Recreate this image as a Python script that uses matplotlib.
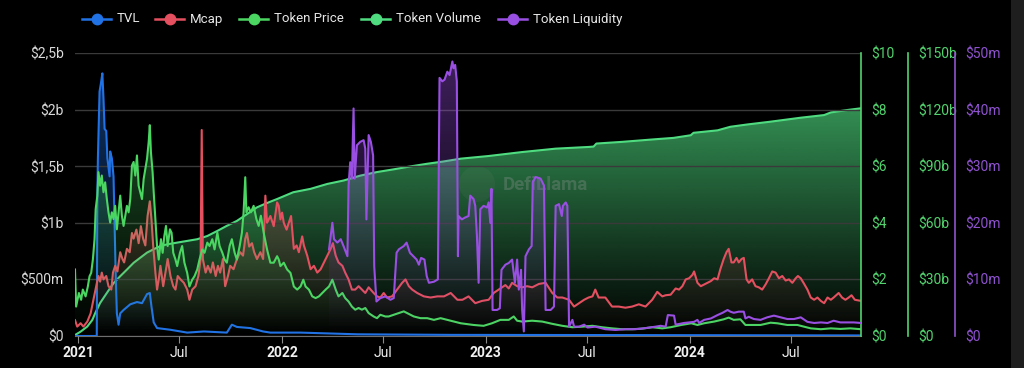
import matplotlib
matplotlib.use("Agg")
import matplotlib.pyplot as plt
import matplotlib.dates as mdates
import matplotlib.colors as mcolors
from matplotlib.lines import Line2D
from matplotlib.patches import Rectangle, Ellipse
import numpy as np
import pandas as pd

# all series: (days since 2021-01-01, value)
START = pd.Timestamp("2021-01-01")

tvl_points = [
    (-6, 0), (33, 0), (34, 1.24), (35, 1.57), (38, 2.16), (41, 2.25), (43, 2.32), (45, 2.1),
    (47, 1.83), (50, 1.81), (52, 1.57), (56, 1.41), (57, 1.63), (60, 1.57), (63, 1.41),
    (65, 0.97), (67, 0.52), (69, 0.2), (72, 0.1), (75, 0.2), (81, 0.23), (93, 0.28),
    (105, 0.3), (114, 0.29), (123, 0.37), (128, 0.38), (131, 0.26), (135, 0.12), (141, 0.07),
    (165, 0.055), (195, 0.03), (225, 0.04), (266, 0.03), (275, 0.1), (284, 0.08), (308, 0.07),
    (331, 0.04), (344, 0.03), (398, 0.03), (500, 0.015), (667, 0.01), (1000, 0.008), (1402, 0.005),
]

mcap_points = [
    (-6, 0.14), (-2, 0.083), (4, 0.113), (9, 0.083), (16, 0.127), (22, 0.2), (27, 0.32),
    (32, 0.44), (36, 0.53), (39, 0.48), (42, 0.56), (45, 0.5), (50, 0.53), (54, 0.44),
    (59, 0.41), (62, 0.56), (66, 0.62), (70, 0.57), (75, 0.74), (79, 0.68), (82, 0.65),
    (87, 0.77), (92, 0.74), (96, 0.91), (99, 0.86), (104, 0.94), (108, 0.82), (112, 0.97),
    (116, 0.86), (120, 0.8), (124, 1.06), (128, 1.19), (131, 1.03), (134, 0.8), (138, 0.56),
    (141, 0.41), (144, 0.5), (147, 0.62), (152, 0.44), (156, 0.56), (160, 0.68), (165, 0.53),
    (170, 0.44), (174, 0.41), (178, 0.53), (183, 0.5), (189, 0.47), (195, 0.41), (199, 0.32),
    (204, 0.41), (210, 0.44), (215, 0.53), (219, 0.68), (221, 1.82), (223, 0.68), (228, 0.56),
    (232, 0.62), (237, 0.56), (241, 0.65), (246, 0.53), (250, 0.62), (254, 0.56), (259, 0.68),
    (263, 0.44), (268, 0.53), (272, 0.62), (278, 0.59), (284, 0.68), (290, 0.74), (295, 0.71),
    (299, 0.86), (302, 0.91), (306, 0.79), (311, 0.82), (315, 0.74), (320, 0.68), (326, 0.74),
    (331, 0.68), (335, 1.24), (338, 1.0), (344, 1.06), (350, 0.97), (356, 1.18), (359, 1.15),
    (362, 1.03), (365, 1.09), (368, 1.0), (373, 0.94), (377, 1.0), (381, 1.06), (386, 0.77),
    (391, 0.8), (395, 0.74), (401, 0.88), (404, 0.8), (410, 0.71), (416, 0.59), (422, 0.62),
    (428, 0.56), (434, 0.59), (440, 0.65), (446, 0.71), (452, 0.77), (456, 0.82), (461, 0.71),
    (466, 0.65), (473, 0.62), (478, 0.56), (484, 0.5), (490, 0.41), (496, 0.41), (502, 0.44),
    (508, 0.41), (514, 0.38), (520, 0.43), (529, 0.38), (535, 0.35), (541, 0.34), (547, 0.38),
    (553, 0.34), (562, 0.35), (571, 0.41), (580, 0.47), (586, 0.5), (592, 0.44), (598, 0.41),
    (607, 0.38), (619, 0.35), (631, 0.34), (643, 0.35), (655, 0.35), (667, 0.38), (673, 0.35),
    (679, 0.32), (688, 0.32), (699, 0.35), (711, 0.29), (723, 0.31), (735, 0.32), (744, 0.38),
    (753, 0.41), (765, 0.45), (771, 0.42), (777, 0.47), (786, 0.44), (795, 0.43), (804, 0.44),
    (813, 0.43), (825, 0.46), (837, 0.47), (849, 0.38), (858, 0.34), (867, 0.34), (879, 0.32),
    (888, 0.26), (897, 0.29), (906, 0.32), (914, 0.34), (921, 0.35), (926, 0.41), (932, 0.34),
    (944, 0.34), (956, 0.26), (968, 0.26), (980, 0.25), (992, 0.26), (1004, 0.28), (1016, 0.26),
    (1028, 0.32), (1037, 0.39), (1046, 0.35), (1052, 0.36), (1061, 0.365), (1070, 0.42),
    (1076, 0.41), (1082, 0.44), (1088, 0.5), (1094, 0.51), (1100, 0.54), (1103, 0.57),
    (1109, 0.47), (1115, 0.44), (1121, 0.455), (1127, 0.47), (1133, 0.485), (1139, 0.51),
    (1145, 0.5), (1150, 0.59), (1156, 0.68), (1161, 0.74), (1165, 0.77), (1170, 0.65),
    (1174, 0.65), (1179, 0.69), (1183, 0.65), (1188, 0.68), (1192, 0.69), (1197, 0.5),
    (1201, 0.47), (1207, 0.5), (1213, 0.44), (1219, 0.43), (1225, 0.41), (1231, 0.455),
    (1237, 0.51), (1243, 0.57), (1249, 0.56), (1255, 0.51), (1261, 0.53), (1267, 0.49),
    (1273, 0.5), (1279, 0.47), (1285, 0.51), (1289, 0.53), (1294, 0.51), (1299, 0.47),
    (1306, 0.41), (1312, 0.34), (1318, 0.32), (1324, 0.34), (1330, 0.31), (1336, 0.29),
    (1342, 0.34), (1348, 0.32), (1353, 0.34), (1362, 0.38), (1368, 0.34), (1374, 0.32),
    (1380, 0.34), (1385, 0.36), (1391, 0.32), (1402, 0.31),
]

price_points = [
    (-6, 2.35), (-4, 1.04), (1, 1.52), (5, 1.28), (8, 1.64), (13, 1.4), (17, 1.75), (20, 2.11),
    (23, 2.23), (26, 2.7), (29, 3.42), (31, 4.48), (34, 4.96), (36, 5.79), (39, 5.31), (42, 5.67),
    (45, 5.08), (48, 5.43), (51, 4.84), (54, 4.37), (57, 4.01), (60, 4.37), (63, 4.13), (66, 4.6),
    (69, 3.77), (72, 4.37), (75, 4.96), (78, 4.25), (81, 3.89), (84, 4.25), (87, 4.6), (90, 4.37),
    (93, 4.84), (96, 6.02), (99, 6.15), (102, 5.67), (105, 6.38), (108, 5.31), (111, 5.08),
    (114, 4.84), (117, 5.55), (120, 5.91), (123, 6.26), (126, 6.86), (128, 7.45), (130, 6.5),
    (133, 5.79), (135, 5.08), (138, 4.13), (141, 3.18), (144, 2.7), (146, 3.06), (148, 3.42),
    (151, 2.94), (154, 3.53), (157, 3.89), (160, 3.18), (164, 3.77), (167, 3.65), (170, 2.94),
    (174, 2.7), (177, 2.47), (182, 2.94), (186, 3.18), (190, 2.59), (195, 2.23), (199, 1.75),
    (204, 1.99), (208, 2.11), (213, 2.35), (217, 2.7), (222, 3.06), (226, 2.94), (231, 3.3),
    (235, 3.18), (240, 3.42), (244, 3.06), (249, 3.65), (253, 3.18), (258, 2.94), (262, 2.7),
    (266, 2.59), (271, 3.18), (275, 3.42), (280, 2.94), (284, 2.7), (289, 3.18), (293, 3.65),
    (296, 4.37), (299, 5.61), (301, 4.37), (305, 4.55), (309, 4.37), (314, 4.6), (319, 4.13),
    (323, 3.89), (327, 4.25), (332, 3.65), (338, 3.06), (344, 2.59), (350, 2.59), (356, 2.82),
    (359, 2.7), (362, 2.47), (368, 2.59), (374, 2.35), (380, 2.23), (386, 1.75), (392, 1.64),
    (398, 1.75), (403, 1.99), (407, 1.75), (413, 1.64), (419, 1.4), (425, 1.34), (431, 1.4),
    (437, 1.52), (443, 1.64), (449, 1.75), (455, 1.99), (461, 1.64), (466, 1.4), (473, 1.52),
    (478, 1.34), (484, 1.22), (490, 1.04), (496, 0.93), (502, 0.99), (508, 0.93), (514, 0.99),
    (520, 0.81), (529, 0.69), (535, 0.63), (541, 0.75), (550, 0.69), (556, 0.69), (565, 0.75),
    (574, 0.81), (583, 0.87), (589, 0.81), (595, 0.75), (601, 0.69), (613, 0.63), (625, 0.63),
    (637, 0.57), (649, 0.63), (661, 0.57), (673, 0.51), (685, 0.45), (708, 0.39), (726, 0.36),
    (741, 0.45), (756, 0.57), (771, 0.57), (780, 0.69), (786, 0.54), (795, 0.51), (813, 0.54),
    (831, 0.51), (849, 0.43), (867, 0.36), (885, 0.31), (903, 0.33), (921, 0.36), (938, 0.31),
    (956, 0.27), (974, 0.24), (992, 0.24), (1010, 0.26), (1028, 0.31), (1046, 0.27), (1061, 0.31),
    (1080, 0.39), (1098, 0.45), (1109, 0.39), (1121, 0.45), (1139, 0.51), (1156, 0.59),
    (1165, 0.65), (1174, 0.57), (1186, 0.59), (1195, 0.39), (1204, 0.39), (1222, 0.39),
    (1240, 0.47), (1252, 0.45), (1270, 0.39), (1288, 0.39), (1300, 0.33), (1312, 0.27),
    (1330, 0.24), (1348, 0.27), (1365, 0.25), (1383, 0.27), (1402, 0.24),
]

volume_points = [
    (-6, 0.5), (4, 2.3), (16, 5), (25, 8.5), (30, 12), (39, 17.5), (51, 22.8), (63, 28),
    (75, 31.7), (87, 35.2), (99, 38.8), (111, 41.5), (123, 44.2), (135, 46), (147, 47.7),
    (159, 48.6), (177, 49.5), (195, 50.4), (213, 51.3), (231, 53), (249, 55.7), (266, 58.4),
    (284, 61), (302, 64.6), (320, 68.2), (338, 70.5), (356, 72.6), (385, 76.2), (416, 78),
    (446, 80.6), (475, 82.4), (505, 85), (535, 86.9), (564, 88.3), (595, 89.9), (625, 91.3),
    (654, 92.5), (685, 94), (735, 95.4), (795, 97.5), (855, 99.3), (914, 100.2), (923, 100.4),
    (928, 102), (974, 102.9), (1034, 104.3), (1066, 105), (1097, 106.4), (1102, 107.7),
    (1145, 109), (1168, 110.9), (1198, 112.1), (1240, 113.6), (1294, 115.7), (1336, 117.1),
    (1348, 118.5), (1378, 119.8), (1402, 120.7),
]

liquidity_points = [
    (449, 15.3), (455, 20), (458, 17.1), (464, 16.5), (470, 17.1), (475, 15.9), (482, 14.1),
    (484, 26.6), (487, 30.7), (490, 27.8), (493, 40.2), (495, 27.8), (499, 33.7), (505, 34.3),
    (511, 34.6), (514, 33.1), (516, 20.6), (520, 35.5), (524, 34.3), (528, 31.9), (530, 12.3),
    (534, 6.1), (541, 6.7), (550, 7.0), (559, 6.4), (565, 6.7), (570, 14.7), (574, 15.3),
    (583, 15.9), (588, 16.5), (594, 14.7), (600, 14.1), (606, 13.5), (610, 12.6), (614, 13.8),
    (620, 13.5), (624, 10.6), (628, 9.4), (637, 9.6), (644, 10), (647, 45.6), (652, 45),
    (656, 45.3), (661, 46.7), (665, 46.1), (670, 48.5), (672, 47.3), (675, 47.9), (678, 45),
    (680, 14.1), (681, 21.2), (687, 20.6), (692, 20.9), (699, 21.2), (702, 24.8), (708, 24.2),
    (711, 23), (714, 17.7), (717, 9.4), (720, 22.4), (726, 23), (732, 22.7), (735, 23.6),
    (738, 20), (740, 26), (742, 4.6), (750, 4.6), (755, 4.9), (758, 11.7), (765, 12.6),
    (771, 12.9), (777, 13.5), (782, 9.4), (786, 13.5), (789, 8.2), (793, 11.7), (795, 4.6),
    (798, 0.8), (801, 14.1), (807, 15.3), (812, 15.9), (814, 27.2), (819, 28.1), (828, 27.8),
    (834, 26.6), (837, 4.6), (846, 4.6), (852, 5.2), (855, 23), (861, 23.3), (866, 21.2),
    (868, 23), (873, 23.6), (876, 23), (879, 1.65), (885, 2.85), (888, 1.65), (897, 1.65),
    (906, 2.0), (912, 1.5), (926, 1.65), (944, 1.2), (962, 1.07), (980, 1.2), (998, 1.2),
    (1016, 1.4), (1034, 1.65), (1043, 1.8), (1052, 1.65), (1056, 3.7), (1067, 3.6), (1070, 2.0),
    (1085, 2.3), (1103, 2.5), (1109, 2.85), (1112, 2.3), (1121, 2.85), (1133, 3.1), (1145, 3.7),
    (1154, 4.1), (1163, 4.6), (1168, 4.3), (1174, 4.1), (1183, 4.3), (1192, 4.3), (1195, 3.1),
    (1201, 3.4), (1210, 3.0), (1222, 2.85), (1234, 3.3), (1246, 3.6), (1258, 3.3), (1270, 3.0),
    (1282, 3.0), (1294, 3.3), (1306, 2.5), (1318, 2.3), (1330, 2.4), (1342, 2.3), (1353, 2.7),
    (1365, 2.4), (1378, 2.4), (1389, 2.4), (1402, 2.3),
]

series_names = ["TVL", "Mcap", "Token Price", "Token Volume", "Token Liquidity"]
series_colors = ["#2172e5", "#e4505f", "#4bd662", "#4fdc80", "#9a4fe3"]

left_ticks = [0, 0.5, 1, 1.5, 2, 2.5]
left_labels = ["$0", "$500m", "$1b", "$1,5b", "$2b", "$2,5b"]
price_ticks = [0, 2, 4, 6, 8, 10]
price_labels = ["$0", "$2", "$4", "$6", "$8", "$10"]
volume_ticks = [0, 30, 60, 90, 120, 150]
volume_labels = ["$0", "$30b", "$60b", "$90b", "$120b", "$150b"]
liq_ticks = [0, 10, 20, 30, 40, 50]
liq_labels = ["$0", "$10m", "$20m", "$30m", "$40m", "$50m"]
x_tick_dates = ["2021-01-01", "2021-07-01", "2022-01-01", "2022-07-01",
                "2023-01-01", "2023-07-01", "2024-01-01", "2024-07-01"]
x_tick_labels = ["2021", "Jul", "2022", "Jul", "2023", "Jul", "2024", "Jul"]

plt.rcParams["font.family"] = ["Roboto", "DejaVu Sans"]

W, H = 1024, 368


def to_xy(points):
    days = np.array([p[0] for p in points], dtype=float)
    vals = np.array([p[1] for p in points], dtype=float)
    x = mdates.date2num(START + pd.to_timedelta(days, unit="D"))
    return x, vals


def gradient_fill(ax, x, y, color, alpha_top):
    poly = ax.fill_between(x, y, 0, facecolor="none", edgecolor="none")
    grad = np.zeros((256, 1, 4))
    grad[..., :3] = mcolors.to_rgb(color)
    grad[..., 3] = np.linspace(0, alpha_top, 256)[:, None]
    im = ax.imshow(grad, aspect="auto", origin="lower", interpolation="bilinear",
                   extent=[x.min(), x.max(), 0, y.max()], zorder=1)
    im.set_clip_path(poly.get_paths()[0], transform=ax.transData)


fig = plt.figure(figsize=(W / 100, H / 100), dpi=100, facecolor="black")
ax = fig.add_axes([75 / W, 1 - 336 / H, (861 - 75) / W, (336 - 53) / H])
ax_vol = ax.twinx()
ax_price = ax.twinx()
ax_liq = ax.twinx()

for a, z in [(ax_vol, 1), (ax, 2), (ax_price, 3), (ax_liq, 4)]:
    a.set_zorder(z)
    a.patch.set_visible(False)
    for s in a.spines.values():
        s.set_visible(False)

# series on their own scales
plots = [
    (ax, tvl_points, series_colors[0], 0.45),
    (ax, mcap_points, series_colors[1], 0.35),
    (ax_price, price_points, series_colors[2], 0.35),
    (ax_vol, volume_points, series_colors[3], 0.65),
    (ax_liq, liquidity_points, series_colors[4], 0.4),
]
for a, pts, color, alpha in plots:
    x, y = to_xy(pts)
    gradient_fill(a, x, y, color, alpha)
    a.plot(x, y, color=color, lw=1.5, zorder=3, solid_joinstyle="round")

x_all, _ = to_xy(volume_points)
xmin, xmax = x_all.min(), x_all.max()
for a in (ax, ax_vol, ax_price, ax_liq):
    a.set_xlim(xmin, xmax)

ax.set_ylim(0, 2.5)
ax_price.set_ylim(0, 10)
ax_vol.set_ylim(0, 150)
ax_liq.set_ylim(0, 50)

# left axis
ax.set_yticks(left_ticks, left_labels)
ax.tick_params(axis="y", length=0, pad=8, labelsize=10, labelcolor="#d9d9d9")
ax.yaxis.grid(True, color="#3a3a3a", lw=1)
ax.set_axisbelow(False)
ax.spines["bottom"].set_visible(True)
ax.spines["bottom"].set_color("#6e6e6e")

# x axis
tick_pos = mdates.date2num(pd.to_datetime(x_tick_dates))
ax.set_xticks(tick_pos, x_tick_labels)
ax.tick_params(axis="x", length=5, color="#8a8a8a", pad=2, labelsize=10, labelcolor="#f0f0f0")
for lbl in ax.get_xticklabels():
    if lbl.get_text() != "Jul":
        lbl.set_fontweight("bold")
for a in (ax_vol, ax_price, ax_liq):
    a.tick_params(axis="x", length=0, labelbottom=False)

# right axes
right_axes = [
    (ax_price, price_ticks, price_labels, "#52d36e", 0),
    (ax_vol, volume_ticks, volume_labels, "#52d36e", 47),
    (ax_liq, liq_ticks, liq_labels, "#8f52cf", 94),
]
for a, ticks, labels, color, offset in right_axes:
    a.set_yticks(ticks, labels)
    a.tick_params(axis="y", length=0, pad=7.2, labelsize=10, labelcolor=color)
    sp = a.spines["right"]
    sp.set_visible(True)
    sp.set_color(color)
    sp.set_linewidth(1.2)
    sp.set_position(("outward", offset * 0.72))

# watermark
fig.text(503 / W, 1 - 185 / H, "DefiLlama", color="#9a9a9a", alpha=0.3, fontsize=13.5,
         fontweight="bold", va="center", ha="left", zorder=1.5)
fig.patches.append(Ellipse((477 / W, 1 - 184 / H), 36 / W, 36 / H, transform=fig.transFigure,
                           facecolor="#9a9a9a", alpha=0.08, edgecolor="none", zorder=1.5))

# legend
legend_x = [82, 155, 239, 361, 498]
for name, color, lx in zip(series_names, series_colors, legend_x):
    fig.add_artist(Line2D([lx / W, (lx + 29) / W], [1 - 19 / H] * 2, color=color, lw=1.8,
                          transform=fig.transFigure))
    fig.add_artist(Line2D([(lx + 14.5) / W], [1 - 19 / H], color=color, marker="o",
                          markersize=7.5, transform=fig.transFigure))
    fig.text((lx + 35) / W, 1 - 19 / H, name, color="#e6e6e6", fontsize=9.5, va="center",
             ha="left")

# scrollbar strip at the right edge
fig.patches.append(Rectangle((1011 / W, 0), 13 / W, 1, transform=fig.transFigure,
                             facecolor="#1e1e1e", edgecolor="none"))

fig.savefig("out.png", dpi=100, facecolor="black")
